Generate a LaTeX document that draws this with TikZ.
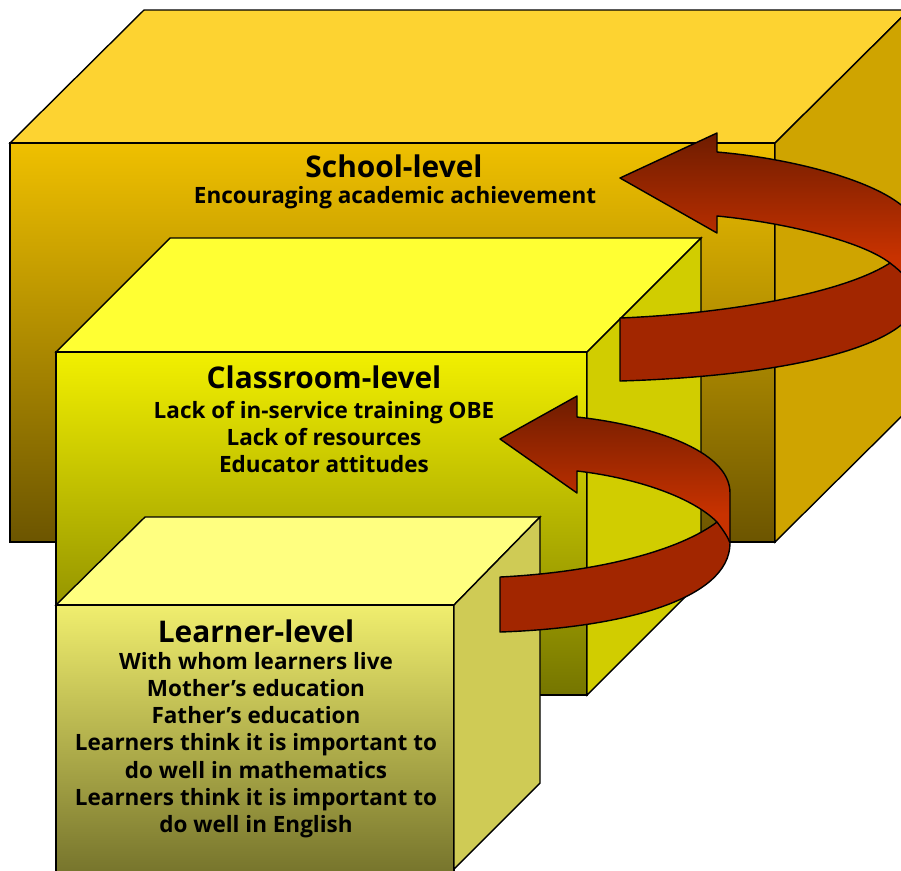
\documentclass[tikz,border=0pt]{standalone}
\usepackage{fontspec}
\setmainfont{Open Sans}
\definecolor{schooltop}{HTML}{FDD331}
\definecolor{schoolhigh}{HTML}{EFC000}
\definecolor{schoollow}{HTML}{6C5500}
\definecolor{schoolside}{HTML}{CFA400}
\definecolor{classtop}{HTML}{FFFF33}
\definecolor{classhigh}{HTML}{F2F000}
\definecolor{classlow}{HTML}{757500}
\definecolor{classside}{HTML}{D1CD00}
\definecolor{learnertop}{HTML}{FFFF80}
\definecolor{learnerhigh}{HTML}{F0EE6E}
\definecolor{learnerlow}{HTML}{76742C}
\definecolor{learnerside}{HTML}{CFCB55}
\definecolor{ribbondark}{HTML}{6E1C00}
\definecolor{ribbonbright}{HTML}{C83200}
\definecolor{ribbonfront}{HTML}{A22600}
\tikzset{
  face/.style={draw=black, line width=0.8pt, line join=miter},
  ribbonline/.style={draw=black, line width=0.8pt, line join=round},
  ribbonshade/.style={top color=ribbondark, bottom color=ribbonbright, middle color=ribbonbright},
  leveltitle/.style={font=\fontsize{17}{20}\selectfont\bfseries},
  levelitems/.style={font=\fontsize{12.8}{15.5}\selectfont\bfseries, align=center},
}
\begin{document}
\begin{tikzpicture}[x=0.02cm,y=-0.02cm]
  \useasboundingbox (0,0) rectangle (901,870);
  \clip (0,0) rectangle (901,870);
  \def\schooltopface{(10,143) -- (144,10) -- (909,10) -- (775,143) -- cycle}
  \def\schoolfrontface{(10,143) rectangle (775,542)}
  \def\schoolrightface{(775,143) -- (909,10) -- (909,409) -- (775,542) -- cycle}
  \def\classtopface{(56,352) -- (170,238) -- (701,238) -- (587,352) -- cycle}
  \def\classfrontface{(56,352) rectangle (587,695)}
  \def\classrightface{(587,352) -- (701,238) -- (701,581) -- (587,695) -- cycle}
  \def\learnertopface{(56,605) -- (145,517) -- (540,517) -- (454,605) -- cycle}
  \def\learnerfrontface{(56,605) rectangle (454,874)}
  \def\learnerrightface{(454,605) -- (540,517) -- (540,783) -- (454,869) -- cycle}
  \def\upperribbon{(620,178) -- (717,133) -- (717,152) .. controls (810,160) and (918,192) .. (918,232) -- (918,296) .. controls (918,345) and (790,376) .. (620,381) -- (620,318) .. controls (720,314) and (840,295) .. (890,263) .. controls (860,240) and (780,222) .. (717,216) -- (717,233) -- cycle}
  \def\upperfront{(620,318) .. controls (720,314) and (840,295) .. (890,263) .. controls (902,272) and (913,283) .. (918,296) .. controls (918,345) and (790,376) .. (620,381) -- cycle}
  \def\lowerribbon{(500,439) -- (577,396) -- (577,417) .. controls (650,425) and (730,450) .. (730,493) -- (730,543) .. controls (730,600) and (620,628) .. (500,632) -- (500,577) .. controls (600,572) and (680,550) .. (717,522) .. controls (690,495) and (630,477) .. (577,471) -- (577,493) -- cycle}
  \def\lowerfront{(500,577) .. controls (600,572) and (680,550) .. (717,522) .. controls (723,530) and (728,537) .. (730,543) .. controls (730,600) and (620,628) .. (500,632) -- cycle}

  % School box
  \path[face, fill=schooltop] \schooltopface;
  \path[face, top color=schoolhigh, bottom color=schoollow] \schoolfrontface;
  \path[face, fill=schoolside] \schoolrightface;

  % Classroom box
  \path[face, fill=classtop] \classtopface;
  \path[face, top color=classhigh, bottom color=classlow] \classfrontface;
  \path[face, fill=classside] \classrightface;

  % Learner box
  \path[face, fill=learnertop] \learnertopface;
  \path[face, top color=learnerhigh, bottom color=learnerlow] \learnerfrontface;
  \path[face, fill=learnerside] \learnerrightface;

  % Ribbon arrows
  \path[ribbonshade] \upperribbon;
  \fill[ribbonfront] \upperfront;
  \path[ribbonline] \upperribbon;
  \draw[ribbonline] (890,263) .. controls (902,272) and (913,283) .. (918,296);

  \path[ribbonshade] \lowerribbon;
  \fill[ribbonfront] \lowerfront;
  \path[ribbonline] \lowerribbon;
  \draw[ribbonline] (717,522) .. controls (723,530) and (728,537) .. (730,543);

  % Texts
  \node[leveltitle] (schooltitle) at (394,166) {School-level};
  \node[levelitems] (schoolitems) at (395,198) {Encouraging academic achievement};
  \node[leveltitle] (classtitle) at (324,377) {Classroom-level};
  \node[levelitems] (classitems) at (324,437) {Lack of in-service training OBE\\Lack of resources\\Educator attitudes};
  \node[leveltitle] (learnertitle) at (256,631) {Learner-level};
  \node[levelitems] (learneritems) at (256,745) {With whom learners live\\Mother’s education\\Father’s education\\Learners think it is important to\\do well in mathematics\\Learners think it is important to\\do well in English};
\end{tikzpicture}
\end{document}
